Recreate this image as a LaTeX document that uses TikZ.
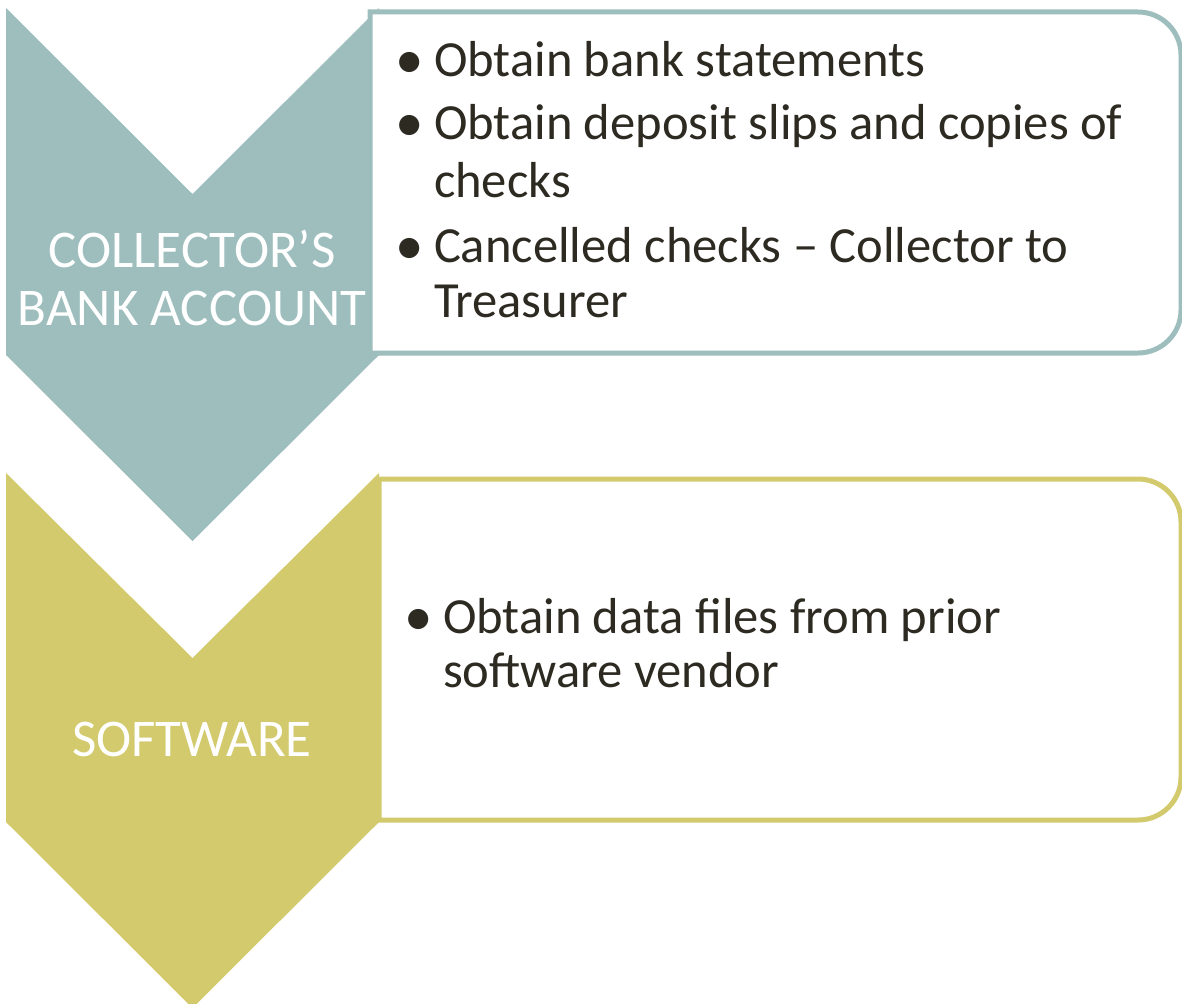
\documentclass[tikz,border=0pt]{standalone}
\usepackage{fontspec}
\setmainfont{Carlito}
\definecolor{teal}{HTML}{9DBEBD}
\definecolor{olive}{HTML}{D2CA6C}
\definecolor{ink}{HTML}{2D2A22}
\begin{document}
\begin{tikzpicture}[x=1pt,y=-1pt,
  every node/.style={inner sep=0pt,outer sep=0pt},
  item/.style={anchor=base west,text=ink,font=\fontsize{50.6}{56}\selectfont},
  bul/.style={anchor=base,text=ink,font=\fontsize{57}{57}\selectfont},
  head/.style={anchor=base,text=white,font=\fontsize{53}{58}\selectfont},
  panel/.style={line width=5pt,fill=white}]
\useasboundingbox (0,0) rectangle (1182,1003);

% first chevron and its panel
\fill[teal] (6,8) -- (192.5,194) -- (379,8) -- (379,355) -- (192.5,541) -- (6,355) -- cycle;
\draw[panel,draw=teal] (370,12) -- (1138,12) arc(-90:0:43) -- (1181,310) arc(0:90:43) -- (370,353) -- cycle;

% second chevron and its panel
\fill[olive] (6,473) -- (192.5,658) -- (379,473) -- (379,822) -- (192.5,1008) -- (6,822) -- cycle;
\draw[panel,draw=olive] (379,479) -- (1138,479) arc(-90:0:43) -- (1181,777) arc(0:90:43) -- (379,820) -- cycle;

% chevron captions
\node[head] (h1) at (192,267) {COLLECTOR’S};
\node[head] (h2) at (192,325) {BANK ACCOUNT};
\node[head] (h3) at (192,756) {SOFTWARE};

% first list
\node[bul] (b1) at (410,79) {•};
\node[item] (t1) at (434,77) {Obtain bank statements};
\node[bul] (b2) at (410,142) {•};
\node[item] (t2) at (434,140) {Obtain deposit slips and copies of};
\node[item] (t3) at (434,197) {checks};
\node[bul] (b3) at (410,264) {•};
\node[item] (t4) at (434,262) {Cancelled checks – Collector to};
\node[item] (t5) at (434,317) {Treasurer};

% second list
\node[bul] (b4) at (419,635) {•};
\node[item] (t6) at (443,633) {Obtain data files from prior};
\node[item] (t7) at (443,687) {software vendor};
\end{tikzpicture}
\end{document}
